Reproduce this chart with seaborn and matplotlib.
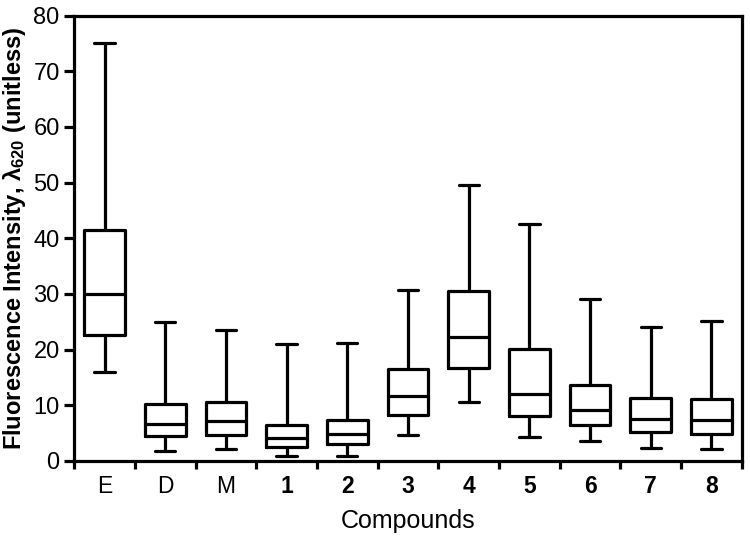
import pandas as pd
import matplotlib
matplotlib.use("Agg")
import matplotlib.pyplot as plt
import seaborn as sns

# five-number summaries (min, q1, median, q3, max)
compounds = ["E", "D", "M", "1", "2", "3", "4", "5", "6", "7", "8"]
mins = [15.9, 1.8, 2.2, 0.9, 0.9, 4.6, 10.6, 4.3, 3.5, 2.3, 2.2]
q1s = [22.7, 4.4, 4.7, 2.4, 3.0, 8.3, 16.7, 8.0, 6.4, 5.1, 4.9]
medians = [29.9, 6.7, 7.2, 4.1, 4.8, 11.7, 22.3, 12.1, 9.2, 7.6, 7.4]
q3s = [41.5, 10.3, 10.6, 6.4, 7.4, 16.5, 30.5, 20.1, 13.6, 11.3, 11.1]
maxs = [75.1, 24.9, 23.5, 21.0, 21.2, 30.7, 49.6, 42.5, 29.1, 24.0, 25.1]

# long table: with 5 points per group, quartiles land exactly on these values
rows = []
for i, c in enumerate(compounds):
    for v in (mins[i], q1s[i], medians[i], q3s[i], maxs[i]):
        rows.append({"compound": c, "value": v})
df = pd.DataFrame(rows)

sns.set_style("ticks")
plt.rcParams["font.family"] = ["Liberation Sans", "DejaVu Sans"]
plt.rcParams["mathtext.fontset"] = "custom"
plt.rcParams["mathtext.rm"] = "Liberation Sans"
plt.rcParams["mathtext.bf"] = "Liberation Sans:bold"
plt.rcParams["mathtext.it"] = "Liberation Sans:italic"
plt.rcParams["text.color"] = "black"
plt.rcParams["axes.labelcolor"] = "black"
plt.rcParams["xtick.color"] = "black"
plt.rcParams["ytick.color"] = "black"

fig, ax = plt.subplots(figsize=(7.5, 5.39), dpi=100)
fig.subplots_adjust(left=0.099, right=0.989, top=0.971, bottom=0.145)

lw = 2.3
sns.boxplot(data=df, x="compound", y="value", order=compounds, whis=(0, 100),
            width=0.67, fill=False, color="black", linecolor="black",
            linewidth=lw, showfliers=False, ax=ax)

ax.set_ylim(0, 80)
ax.set_xlim(-0.5, len(compounds) - 0.5)
ax.set_yticks(range(0, 81, 10))
ax.tick_params(axis="y", labelsize=17, width=lw, length=7, direction="out")
ax.tick_params(axis="x", which="major", length=0, labelsize=16.5, pad=10)
ax.set_xticks([i - 0.5 for i in range(len(compounds) + 1)], minor=True)
ax.tick_params(axis="x", which="minor", width=lw, length=6, direction="out")
for lab in ax.get_xticklabels():
    if lab.get_text().isdigit():
        lab.set_fontweight("bold")
for s in ax.spines.values():
    s.set_visible(True)
    s.set_linewidth(lw)
    s.set_color("black")

ax.set_xlabel("Compounds", fontsize=18, labelpad=8)
ax.set_ylabel(r"Fluorescence Intensity, $\mathbf{\lambda_{620}}$ (unitless)",
              fontsize=17, fontweight="bold", labelpad=4)

fig.savefig("out.png", dpi=100)
